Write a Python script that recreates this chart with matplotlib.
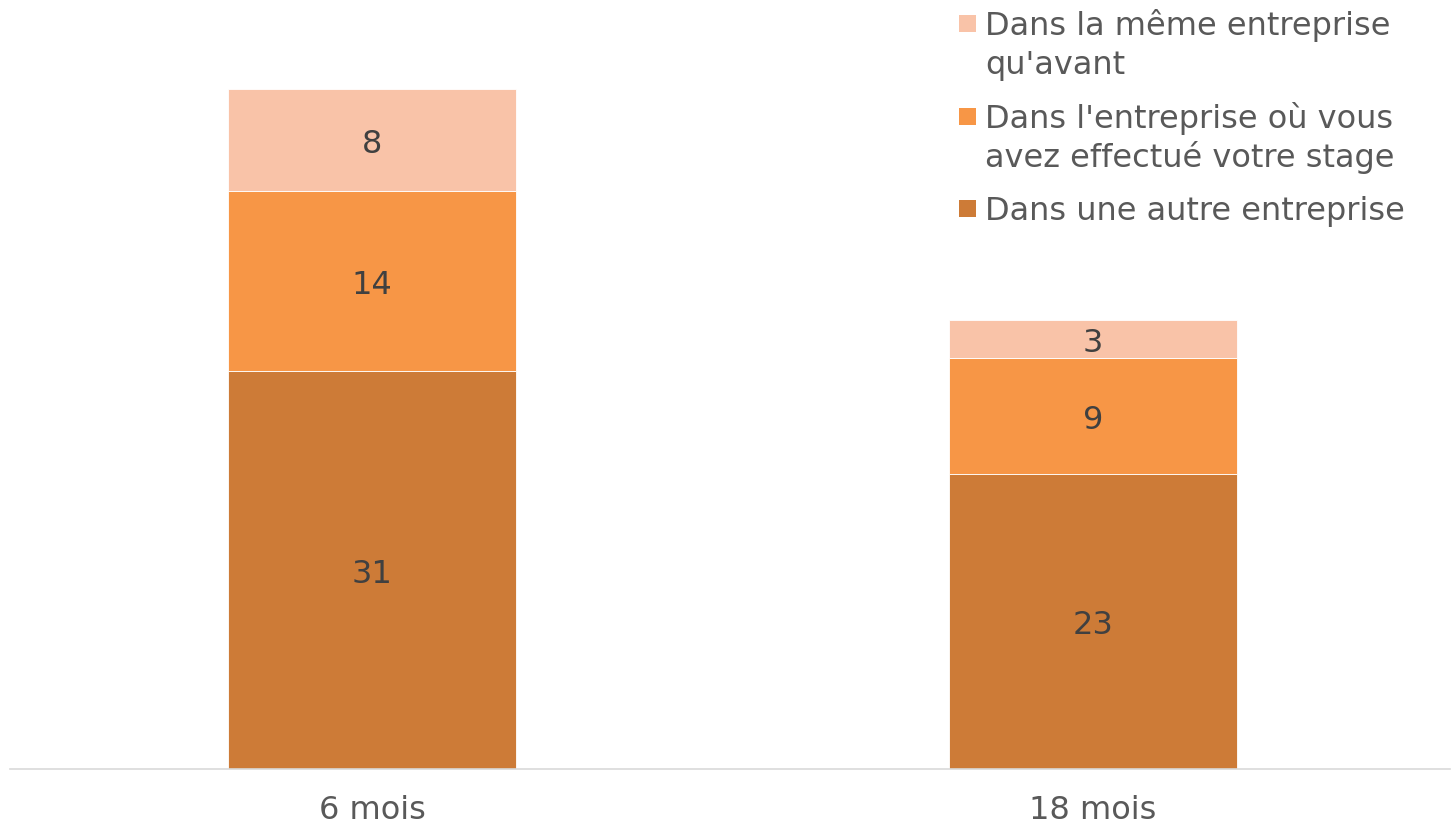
import matplotlib
matplotlib.use("Agg")
import matplotlib.pyplot as plt
from matplotlib.patches import Rectangle

categories = ["6 mois", "18 mois"]
autre = [31, 23]
stage = [14, 9]
meme = [8, 3]
series_labels = ["Dans une autre entreprise",
                 "Dans l'entreprise où vous\navez effectué votre stage",
                 "Dans la même entreprise\nqu'avant"]
colors = ["#CD7B37", "#F79646", "#F9C3A8"]

plt.rcParams['font.family'] = ['DejaVu Sans']
W, H = 1451, 826
fig = plt.figure(figsize=(W / 100, H / 100), dpi=100)
ax = fig.add_axes([10 / W, 1 - 769 / H, 1440 / W, 769 / H])

FS = 23
x = list(range(len(categories)))
bottoms = [0] * len(categories)
for vals, col in zip([autre, stage, meme], colors):
    ax.bar(x, vals, width=0.4, bottom=bottoms, color=col,
           edgecolor="white", linewidth=0.6, zorder=2)
    for xi, b, v in zip(x, bottoms, vals):
        ax.annotate(str(v), (xi, b + v / 2), xytext=(0, -3),
                    textcoords="offset points", ha="center", va="center",
                    fontsize=FS, color="#404040", zorder=3)
    bottoms = [b + v for b, v in zip(bottoms, vals)]

ax.set_xlim(-0.502, 1.495)
ax.set_ylim(0, 59.9)
ax.set_xticks(x)
ax.set_xticklabels(categories, fontsize=FS, color="#595959")
ax.tick_params(axis="x", length=0, pad=19)
ax.set_yticks([])
for s in ["top", "right", "left"]:
    ax.spines[s].set_visible(False)
ax.spines["bottom"].set_color("#D9D9D9")
ax.spines["bottom"].set_linewidth(1.2)

# Legend (manual, handles aligned with first line of each entry)
entry_baselines = [35, 128, 220]  # pixel y of first line baseline
line_gap = 39
sq = 17
for label, col, y0 in zip(reversed(series_labels), reversed(colors), entry_baselines):
    fig.patches.append(Rectangle((959 / W, 1 - (y0 - 3) / H), sq / W, sq / H,
                                 transform=fig.transFigure, facecolor=col,
                                 edgecolor="none"))
    for i, line in enumerate(label.split("\n")):
        fig.text(985 / W, 1 - (y0 + i * line_gap) / H, line, ha="left",
                 va="baseline", fontsize=FS, color="#595959")

fig.savefig("out.png", dpi=100)
